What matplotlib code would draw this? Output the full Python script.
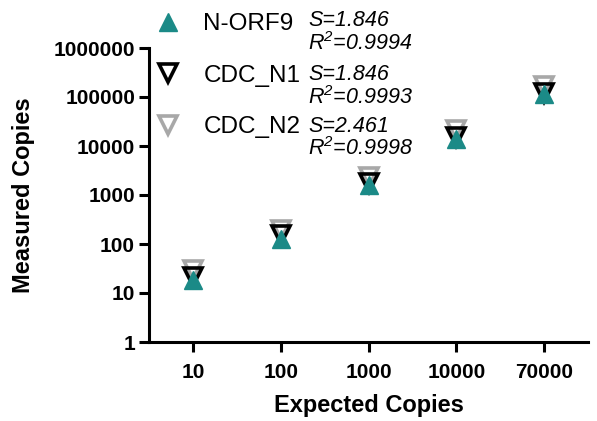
import matplotlib
matplotlib.use('Agg')
from matplotlib import pyplot as plt
import numpy as np

plt.rcParams['font.family'] = ['Liberation Sans', 'DejaVu Sans']
plt.rcParams['mathtext.fontset'] = 'custom'
plt.rcParams['mathtext.rm'] = 'Liberation Sans:italic'
plt.rcParams['mathtext.it'] = 'Liberation Sans:italic'

# expected input copies (categorical x axis)
expected = ['10', '100', '1000', '10000', '70000']
# measured copies
n_orf9 = [18, 129, 1590, 13800, 115000]
cdc_n1 = [21, 152, 1780, 15200, 123000]
cdc_n2 = [30, 192, 2350, 21000, 170000]

labels = ['N-ORF9', 'CDC_N1', 'CDC_N2']
slopes = ['1.846', '1.846', '2.461']
r2 = ['0.9994', '0.9993', '0.9998']

teal = '#1b8a87'
grey = '#a8a8a8'

W, H = 597, 421
fig = plt.figure(figsize=(W / 100, H / 100), dpi=100)
ax = fig.add_axes([149 / W, 1 - 342 / H, (588 - 149) / W, (342 - 48) / H])

x = np.arange(len(expected))
h2, = ax.plot(x, cdc_n2, 'v', ms=12.5, mfc='none', mec=grey, mew=2.6, ls='none')
h1, = ax.plot(x, cdc_n1, 'v', ms=12.5, mfc='none', mec='black', mew=2.6, ls='none')
h0, = ax.plot(x, n_orf9, '^', ms=12.5, mfc=teal, mec=teal, mew=1, ls='none')

ax.set_yscale('log')
ax.set_ylim(1, 1e6)
ax.set_xlim(-0.5, 4.5)
ax.set_yticks([1, 10, 100, 1000, 10000, 100000, 1000000])
ax.set_yticklabels(['1', '10', '100', '1000', '10000', '100000', '1000000'])
ax.minorticks_off()
ax.set_xticks(x)
ax.set_xticklabels(expected)

for s in ['top', 'right']:
    ax.spines[s].set_visible(False)
for s in ['left', 'bottom']:
    ax.spines[s].set_linewidth(2.2)
ax.tick_params(width=2.2, length=7, labelsize=15, pad=3)
for t in ax.get_xticklabels() + ax.get_yticklabels():
    t.set_fontweight('bold')
ax.tick_params(axis='x', pad=8)

ax.set_xlabel('Expected Copies', fontsize=17, fontweight='bold', labelpad=9)
fig.text(24 / W, 1 - 195 / H, 'Measured Copies', fontsize=17, fontweight='bold',
         rotation=90, ha='center', va='center')

leg = ax.legend([h0, h1, h2], labels, loc='upper left', frameon=False,
                bbox_to_anchor=(156 / W, 1 - 13 / H), bbox_transform=fig.transFigure,
                fontsize=17.5, handlelength=1.0, handletextpad=0.95, labelspacing=1.22,
                borderpad=0, borderaxespad=0)
leg.set_clip_on(False)

s_y = [21, 75, 127]
r_y = [44, 98, 149]
for i in range(3):
    fig.text(308 / W, 1 - s_y[i] / H, 'S=' + slopes[i], fontsize=15.5, style='italic',
             va='center', ha='left')
    fig.text(308 / W, 1 - r_y[i] / H, 'R$^{2}$=' + r2[i], fontsize=15.5, style='italic',
             va='center', ha='left')

fig.savefig('out.png', dpi=100)
